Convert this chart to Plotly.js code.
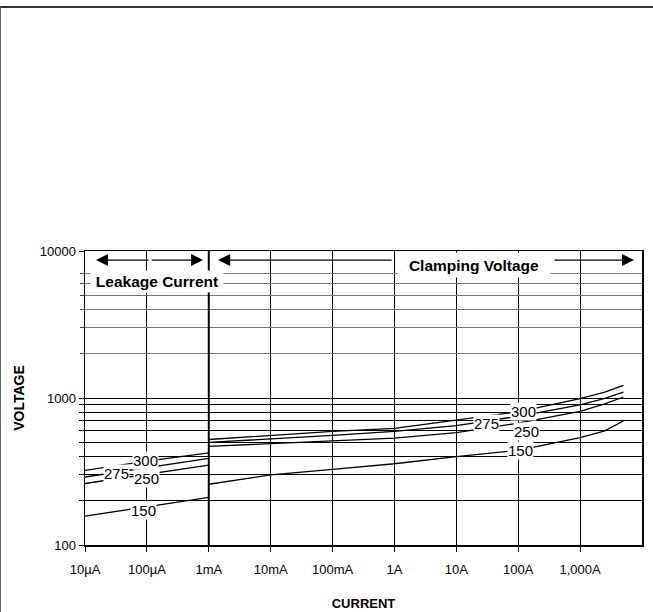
<!DOCTYPE html>
<html><head><meta charset="utf-8">
<script src="https://cdn.plot.ly/plotly-3.0.1.min.js"></script>
<style>
html,body{margin:0;padding:0;background:#fff;}
#chart{position:absolute;left:0;top:0;width:653px;height:612px;}
#topline{position:absolute;left:0;top:6px;width:653px;height:2px;background:#333;}
#leftline{position:absolute;left:0;top:7px;width:1px;height:605px;background:#666;}
</style></head><body>
<div id="chart"></div><div id="topline"></div><div id="leftline"></div>
<script>
// ---- data ----
const leakageCurrent = [1e-5, 1e-4, 1e-3];          // A
const leakage150 = [157, 182, 211];
const leakage250 = [262, 303, 350];
const leakage275 = [290, 336, 388];
const leakage300 = [322, 372, 423];

const clampCurrent = [1e-3, 1e-2, 1e-1, 1, 10, 100, 1000, 2500, 5000]; // A
const clamp150 = [259, 300, 327, 357, 399, 441, 537, 598, 698];
const clamp250 = [469, 491, 510, 533, 582, 674, 811, 912, 1016];
const clamp275 = [499, 526, 556, 592, 649, 751, 898, 993, 1097];
const clamp300 = [522, 556, 592, 622, 711, 805, 989, 1097, 1217];

const xTickVals = [1e-5, 1e-4, 1e-3, 1e-2, 1e-1, 1, 10, 100, 1000];
const xTickText = ['10\u00b5A', '100\u00b5A', '1mA', '10mA', '100mA', '1A', '10A', '100A', '1,000A'];
const yTickVals = [100, 200, 300, 400, 500, 600, 700, 800, 900, 1000, 10000];
const yTickText = ['100', '', '', '', '', '', '', '', '', '1000', '10000'];
const yUpperGridVals = [2000, 3000, 4000, 5000, 6000, 7000];
const regionBoundary = 1e-3; // leakage / clamping boundary (1mA)

const FONT = '"Liberation Sans", Arial, Helvetica, sans-serif';

function line(x, y, yaxis) {
  return {x: x, y: y, type: 'scatter', mode: 'lines', hoverinfo: 'skip', yaxis: yaxis || 'y',
          line: {color: '#000', width: 1.3}, showlegend: false};
}
const traces = [
  line(leakageCurrent, leakage150), line(leakageCurrent, leakage250),
  line(leakageCurrent, leakage275), line(leakageCurrent, leakage300),
  line(clampCurrent, clamp150), line(clampCurrent, clamp250),
  line(clampCurrent, clamp275), line(clampCurrent, clamp300, 'y2')
];

function curveLabel(text, cur, volt) {
  return {xref: 'x', yref: 'y', x: Math.log10(cur), y: Math.log10(volt), text: text,
          showarrow: false, bgcolor: '#fff', borderpad: 0,
          font: {family: FONT, size: 15, color: '#000'}};
}
const arrowBase = {xref: 'paper', yref: 'paper', text: '', showarrow: true,
  arrowhead: 2, arrowsize: 2, arrowwidth: 1.2, arrowcolor: '#000', ay: 0, standoff: 0, startstandoff: 0};

const layout = {
  width: 653, height: 612,
  margin: {l: 85, r: 11, t: 251, b: 67},
  paper_bgcolor: '#fff', plot_bgcolor: '#fff',
  font: {family: FONT, color: '#000'},
  showlegend: false,
  xaxis: {
    type: 'log', range: [-5, 4], tickmode: 'array', tickvals: xTickVals, ticktext: xTickText,
    showgrid: true, gridcolor: '#000', gridwidth: 1, zeroline: false,
    showline: true, linecolor: '#000', linewidth: 1.5, mirror: true,
    ticks: 'outside', ticklen: 5, tickcolor: '#000', tickwidth: 1,
    ticklabelstandoff: 7,
    tickfont: {family: FONT, size: 13, color: '#000'},
    title: {text: '<b>CURRENT</b>', font: {family: FONT, size: 13, color: '#000'}, standoff: 23}
  },
  yaxis: {
    type: 'log', range: [2, 4], tickmode: 'array', tickvals: yTickVals, ticktext: yTickText,
    showgrid: true, gridcolor: '#000', gridwidth: 1, zeroline: false,
    showline: true, linecolor: '#000', linewidth: 1.5, mirror: true,
    ticks: 'outside', ticklen: 5, tickcolor: '#000', tickwidth: 1,
    tickfont: {family: FONT, size: 13, color: '#000'},
    title: {text: '<b>VOLTAGE</b>', font: {family: FONT, size: 14, color: '#000'}, standoff: 12}
  },
  yaxis2: {
    type: 'log', range: [2, 4], overlaying: 'y', side: 'left',
    tickmode: 'array', tickvals: yUpperGridVals, showticklabels: false,
    showgrid: true, gridcolor: '#777', gridwidth: 1, zeroline: false, showline: false,
    ticks: 'outside', ticklen: 4, tickcolor: '#444'
  },
  shapes: [
    {type: 'line', xref: 'x', yref: 'paper', x0: regionBoundary, x1: regionBoundary, y0: 0, y1: 1,
     line: {color: '#000', width: 2}, layer: 'above'}
  ],
  annotations: [
    curveLabel('300', 9.5e-5, 375), curveLabel('275', 3.25e-5, 306),
    curveLabel('250', 1e-4, 284), curveLabel('150', 8.8e-5, 172),
    curveLabel('300', 120, 814), curveLabel('275', 31, 673),
    curveLabel('250', 136, 591), curveLabel('150', 107, 439),
    Object.assign({}, arrowBase, {x: 0.0197, y: 0.969, ax: 54}),
    Object.assign({}, arrowBase, {x: 0.212, y: 0.969, ax: -53}),
    Object.assign({}, arrowBase, {x: 0.239, y: 0.969, ax: 175}),
    Object.assign({}, arrowBase, {x: 0.9856, y: 0.969, ax: -81}),
    {xref: 'paper', yref: 'paper', x: 0.698, y: 0.952, text: '<b>Clamping Voltage</b>',
     showarrow: false, bgcolor: '#fff', width: 150, height: 22, borderpad: 1,
     xanchor: 'center', yanchor: 'middle', font: {family: FONT, size: 15.5, color: '#000'}},
    {xref: 'paper', yref: 'paper', x: 0.129, y: 0.896, text: '<b>Leakage Current</b>',
     showarrow: false, bgcolor: '#fff', width: 130, height: 19, borderpad: 1,
     xanchor: 'center', yanchor: 'middle', font: {family: FONT, size: 15.5, color: '#000'}}
  ]
};

Plotly.newPlot('chart', traces, layout, {displayModeBar: false, staticPlot: true});
</script>
</body></html>
